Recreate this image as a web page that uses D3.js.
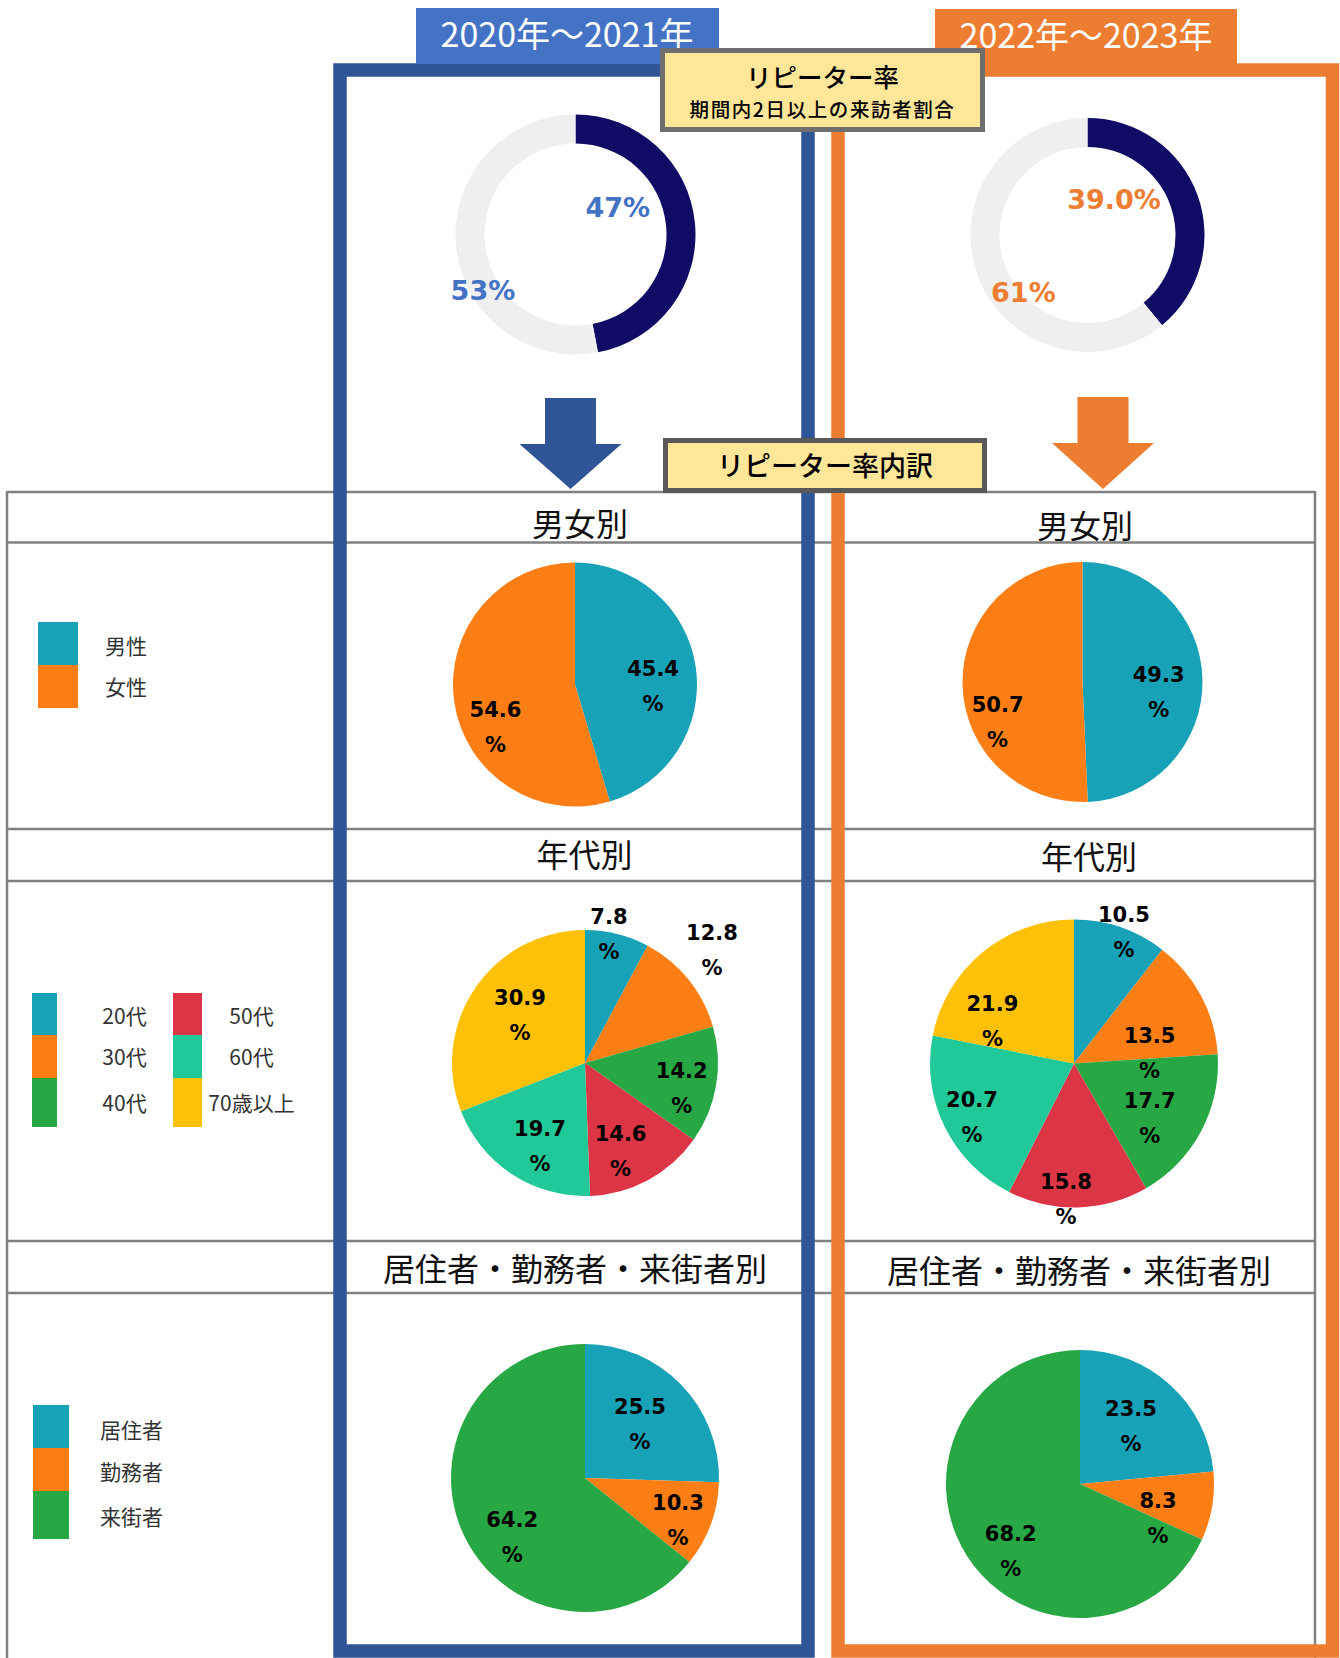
<!DOCTYPE html>
<html>
<head>
<meta charset="utf-8">
<script src="https://cdn.jsdelivr.net/npm/d3@7"></script>
<style>
  body { margin: 0; background: #fff; }
  svg { display: block; }
</style>
</head>
<body>
<svg id="chart" width="1340" height="1658"></svg>
<script>
// ---------- data ----------
const periods = ["2020年～2021年", "2022年～2023年"];

// repeater share (visitors on 2+ days in the period) and the remainder
const repeaterShare = [47, 39.0];
const otherShare = [53, 61];
const repeaterDigits = [0, 1];
const otherDigits = [0, 0];

const sectionTitles = ["男女別", "年代別", "居住者・勤務者・来街者別"];

const genderCategories = ["男性", "女性"];
const gender2020_21 = [45.4, 54.6];
const gender2022_23 = [49.3, 50.7];

const ageCategories = ["20代", "30代", "40代", "50代", "60代", "70歳以上"];
const age2020_21 = [7.8, 12.8, 14.2, 14.6, 19.7, 30.9];
const age2022_23 = [10.5, 13.5, 17.7, 15.8, 20.7, 21.9];

const residenceCategories = ["居住者", "勤務者", "来街者"];
const residence2020_21 = [25.5, 10.3, 64.2];
const residence2022_23 = [23.5, 8.3, 68.2];

// ---------- styling ----------
const FONT_JP = "'Noto Sans CJK JP', 'Noto Sans', sans-serif";
const FONT_NUM = "'DejaVu Sans', Verdana, sans-serif";
const BLUE_FRAME = "#2F5597", BLUE_HEAD = "#4472C4", ORANGE = "#ED7D31";
const NAVY = "#100C66", RING_GREY = "#EFEFEF";
const GRID = "#808080";

const genderColor = d3.scaleOrdinal(genderCategories, ["#17A2B8", "#FD7E14"]);
const ageColor = d3.scaleOrdinal(ageCategories,
  ["#17A2B8", "#FD7E14", "#28A745", "#DC3545", "#20C997", "#FFC107"]);
const residenceColor = d3.scaleOrdinal(residenceCategories, ["#17A2B8", "#FD7E14", "#28A745"]);

const svg = d3.select("#chart");
const rad = deg => deg * Math.PI / 180;
const polar = (cx, cy, d, deg) => [cx + d * Math.sin(rad(deg)), cy - d * Math.cos(rad(deg))];

// ---------- table grid ----------
const gridRows = [492, 542.5, 829, 881, 1241, 1293];
const grid = svg.append("g").attr("stroke", GRID).attr("stroke-width", 2.5);
gridRows.forEach(y => grid.append("line").attr("x1", 7).attr("x2", 1315).attr("y1", y).attr("y2", y));
[7, 1315].forEach(x => grid.append("line").attr("x1", x).attr("x2", x).attr("y1", 491).attr("y2", 1658));

// ---------- donut charts (repeater share) ----------
const donutLayout = [
  { cx: 575.5, cy: 234.5, ro: 120, ri: 91, labelColor: BLUE_HEAD,
    place: [[0.42, -27.5], [0.9, -25.6]] },
  { cx: 1087.5, cy: 235, ro: 117, ri: 88, labelColor: ORANGE,
    place: [[0.38, -33.5], [0.735, -22]] }
];

periods.forEach((p, i) => {
  const L = donutLayout[i];
  const values = [repeaterShare[i], otherShare[i]];
  const digits = [repeaterDigits[i], otherDigits[i]];
  const arcs = d3.pie().sort(null).value(d => d)(values);
  const arc = d3.arc().innerRadius(L.ri).outerRadius(L.ro);
  const g = svg.append("g").attr("transform", `translate(${L.cx},${L.cy})`);
  g.selectAll("path").data(arcs).join("path")
    .attr("d", arc)
    .attr("fill", (d, k) => k === 0 ? NAVY : RING_GREY);
  arcs.forEach((a, k) => {
    const mid = (a.startAngle + a.endAngle) / 2 * 180 / Math.PI;
    const [x, y] = polar(L.cx, L.cy, L.ro * L.place[k][0], mid + L.place[k][1]);
    svg.append("text")
      .attr("x", x).attr("y", y).attr("dy", "0.36em")
      .attr("text-anchor", "middle")
      .attr("font-family", FONT_NUM).attr("font-weight", "bold").attr("font-size", 27)
      .attr("fill", L.labelColor)
      .text(d3.format(`.${digits[k]}f`)(values[k]) + "%");
  });
});

// ---------- breakdown pies ----------
const pieLayout = {
  gender: [
    { cx: 575, cy: 684.5, r: 122, place: [[0.64, 9], [0.74, -20]] },
    { cx: 1082.5, cy: 682, r: 120, place: [[0.64, 8.7], [0.78, -23.7]] }
  ],
  age: [
    { cx: 585, cy: 1063, r: 133,
      place: [[0.985, -3.5], [1.28, -2.9], [0.75, 4.5], [0.71, 6.3], [0.71, -4.8], [0.61, 2.3]] },
    { cx: 1074, cy: 1063.5, r: 144,
      place: [[0.977, 1.9], [0.53, 19.8], [0.65, 7.8], [0.94, 5], [0.8, -1.7], [0.64, -22.9]] }
  ],
  residence: [
    { cx: 585, cy: 1478, r: 134, place: [[0.575, -0.4], [0.76, 3.7], [0.70, -13.6]] },
    { cx: 1080, cy: 1484, r: 134, place: [[0.576, -1], [0.634, 13.7], [0.72, -11.4]] }
  ]
};

function drawPie(categories, values, color, L) {
  const arcs = d3.pie().sort(null).value(d => d)(values);
  const arc = d3.arc().innerRadius(0).outerRadius(L.r);
  const g = svg.append("g").attr("transform", `translate(${L.cx},${L.cy})`);
  g.selectAll("path").data(arcs).join("path")
    .attr("d", arc)
    .attr("fill", (d, k) => color(categories[k]));
  const fmt = d3.format(".1f");
  arcs.forEach((a, k) => {
    const mid = (a.startAngle + a.endAngle) / 2 * 180 / Math.PI;
    const [x, y] = polar(L.cx, L.cy, L.r * L.place[k][0], mid + L.place[k][1]);
    const t = svg.append("text")
      .attr("text-anchor", "middle")
      .attr("font-family", FONT_NUM).attr("font-weight", "bold").attr("font-size", 21)
      .attr("fill", "#000");
    t.append("tspan").attr("x", x).attr("y", y - 17.5).attr("dy", "0.36em").text(fmt(values[k]));
    t.append("tspan").attr("x", x).attr("y", y + 17.5).attr("dy", "0.36em").text("%");
  });
}

drawPie(genderCategories, gender2020_21, genderColor, pieLayout.gender[0]);
drawPie(genderCategories, gender2022_23, genderColor, pieLayout.gender[1]);
drawPie(ageCategories, age2020_21, ageColor, pieLayout.age[0]);
drawPie(ageCategories, age2022_23, ageColor, pieLayout.age[1]);
drawPie(residenceCategories, residence2020_21, residenceColor, pieLayout.residence[0]);
drawPie(residenceCategories, residence2022_23, residenceColor, pieLayout.residence[1]);

// ---------- section titles ----------
const titlePos = [
  [[580, 536], [1085, 538]],
  [[584.5, 867], [1089, 869]],
  [[575, 1280.5], [1079, 1283]]
];
sectionTitles.forEach((t, s) => {
  titlePos[s].forEach(([x, y]) => {
    svg.append("text").attr("x", x).attr("y", y)
      .attr("text-anchor", "middle")
      .attr("font-family", FONT_JP).attr("font-size", 32).attr("fill", "#111")
      .text(t);
  });
});

// ---------- legends ----------
const legendText = (x, y, s, anchor) => svg.append("text")
  .attr("x", x).attr("y", y).attr("text-anchor", anchor || "start")
  .attr("font-family", FONT_JP).attr("font-size", 21).attr("fill", "#333")
  .text(s);

// gender
const genderRows = [[622, 665], [665, 708]];
genderCategories.forEach((c, k) => {
  svg.append("rect").attr("x", 38).attr("y", genderRows[k][0]).attr("width", 40)
    .attr("height", genderRows[k][1] - genderRows[k][0]).attr("fill", genderColor(c));
  legendText(105, [653.5, 694.5][k], c);
});

// age (two columns of three)
const ageRows = [[993, 1035], [1035, 1078], [1078, 1127]];
const ageBase = [1024, 1065, 1111];
ageCategories.forEach((c, k) => {
  const col = Math.floor(k / 3), row = k % 3;
  const sx = col === 0 ? 32 : 173, sw = col === 0 ? 25 : 29;
  svg.append("rect").attr("x", sx).attr("y", ageRows[row][0]).attr("width", sw)
    .attr("height", ageRows[row][1] - ageRows[row][0]).attr("fill", ageColor(c));
  legendText(col === 0 ? 124.5 : 251.5, ageBase[row], c, "middle");
});

// residence
const resRows = [[1405, 1448], [1448, 1491], [1491, 1539]];
const resBase = [1437.5, 1479.5, 1524.5];
residenceCategories.forEach((c, k) => {
  svg.append("rect").attr("x", 33).attr("y", resRows[k][0]).attr("width", 36)
    .attr("height", resRows[k][1] - resRows[k][0]).attr("fill", residenceColor(c));
  legendText(100, resBase[k], c);
});

// ---------- period frames and headers ----------
svg.append("rect").attr("x", 340).attr("y", 70).attr("width", 468).attr("height", 1581)
  .attr("fill", "none").attr("stroke", BLUE_FRAME).attr("stroke-width", 13.5);
svg.append("rect").attr("x", 838).attr("y", 70).attr("width", 494.5).attr("height", 1581)
  .attr("fill", "none").attr("stroke", ORANGE).attr("stroke-width", 13.5);

const headers = [
  { x: 416, y: 8, w: 303, h: 56, fill: BLUE_HEAD, tx: 567, ty: 47 },
  { x: 935, y: 9, w: 302, h: 55, fill: ORANGE, tx: 1086, ty: 48 }
];
periods.forEach((p, i) => {
  const h = headers[i];
  svg.append("rect").attr("x", h.x).attr("y", h.y).attr("width", h.w).attr("height", h.h).attr("fill", h.fill);
  svg.append("text").attr("x", h.tx).attr("y", h.ty).attr("text-anchor", "middle")
    .attr("font-family", FONT_JP).attr("font-size", 34).attr("fill", "#fff")
    .text(p);
});

// ---------- down arrows ----------
const arrows = [
  { cx: 570.5, top: 398, headY: 444, tip: 489, fill: BLUE_FRAME },
  { cx: 1103, top: 397, headY: 443, tip: 489, fill: ORANGE }
];
arrows.forEach(a => {
  const sw = 25.5, hw = 51;
  const path = d3.path();
  path.moveTo(a.cx - sw, a.top);
  path.lineTo(a.cx + sw, a.top);
  path.lineTo(a.cx + sw, a.headY);
  path.lineTo(a.cx + hw, a.headY);
  path.lineTo(a.cx, a.tip);
  path.lineTo(a.cx - hw, a.headY);
  path.lineTo(a.cx - sw, a.headY);
  path.closePath();
  svg.append("path").attr("d", path.toString()).attr("fill", a.fill);
});

// ---------- caption boxes ----------
svg.append("rect").attr("x", 662.5).attr("y", 50.5).attr("width", 320).attr("height", 79)
  .attr("fill", "#FFE699").attr("stroke", "#6E6E6E").attr("stroke-width", 5);
svg.append("text").attr("x", 822.5).attr("y", 86.5).attr("text-anchor", "middle")
  .attr("font-family", FONT_JP).attr("font-size", 25.5).attr("font-weight", 500).attr("fill", "#000")
  .text("リピーター率");
svg.append("text").attr("x", 822.5).attr("y", 117).attr("text-anchor", "middle")
  .attr("font-family", FONT_JP).attr("font-size", 19.5).attr("font-weight", 500)
  .attr("letter-spacing", 1.6).attr("fill", "#000")
  .text("期間内2日以上の来訪者割合");

svg.append("rect").attr("x", 665.5).attr("y", 440.5).attr("width", 319).attr("height", 50)
  .attr("fill", "#FFE699").attr("stroke", "#595959").attr("stroke-width", 5);
svg.append("text").attr("x", 825).attr("y", 476).attr("text-anchor", "middle")
  .attr("font-family", FONT_JP).attr("font-size", 27).attr("font-weight", 500).attr("fill", "#000")
  .text("リピーター率内訳");
</script>
</body>
</html>
